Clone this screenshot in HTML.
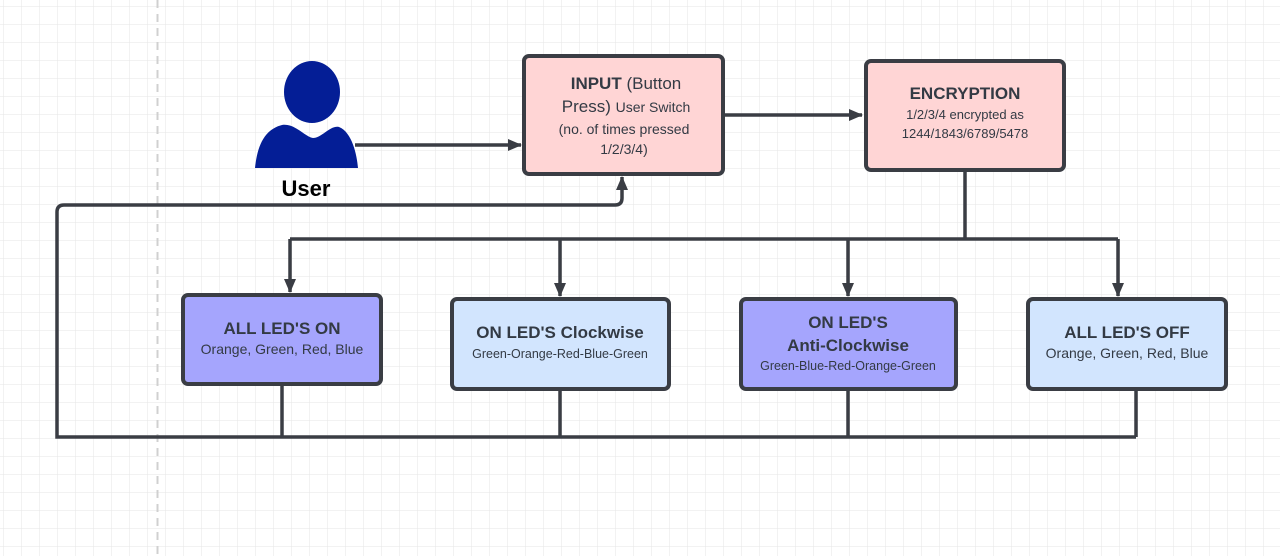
<!DOCTYPE html>
<html><head><meta charset="utf-8"><style>
html,body{margin:0;padding:0;background:#fff;}
svg{display:block;}
text{font-family:"Liberation Sans",sans-serif;fill:#333a44;}
</style></head><body>
<svg width="1280" height="556" viewBox="0 0 1280 556" xmlns="http://www.w3.org/2000/svg">
<defs>
<pattern id="g" x="3.5" y="6" width="18" height="18" patternUnits="userSpaceOnUse">
<path d="M0 0H18M0 0V18" stroke="#e6e6e6" stroke-width="1" fill="none"/>
</pattern>
<marker id="a" markerWidth="14" markerHeight="12" refX="13" refY="6" orient="auto" markerUnits="userSpaceOnUse" viewBox="0 0 14 12">
<path d="M0 0L14 6L0 12z" fill="#3a3d44"/>
</marker>
</defs>
<rect width="1280" height="556" fill="url(#g)"/>
<line x1="157.5" y1="0" x2="157.5" y2="556" stroke="#d0d0d0" stroke-width="2" stroke-dasharray="8,6"/>

<g stroke="#3a3d44" stroke-width="3.5" fill="none">
<line x1="355" y1="145" x2="521" y2="145" marker-end="url(#a)"/>
<line x1="723" y1="115" x2="862" y2="115" marker-end="url(#a)"/>
<line x1="965" y1="170" x2="965" y2="239"/>
<line x1="290" y1="239" x2="1118" y2="239"/>
<line x1="290" y1="239" x2="290" y2="292" marker-end="url(#a)"/>
<line x1="560" y1="239" x2="560" y2="296" marker-end="url(#a)"/>
<line x1="848" y1="239" x2="848" y2="296" marker-end="url(#a)"/>
<line x1="1118" y1="239" x2="1118" y2="296" marker-end="url(#a)"/>
<line x1="282" y1="384" x2="282" y2="437"/>
<line x1="560" y1="389" x2="560" y2="437"/>
<line x1="848" y1="389" x2="848" y2="437"/>
<line x1="1136" y1="389" x2="1136" y2="437"/>
<path d="M1136,437 L57,437 L57,212 Q57,205 64,205 L615,205 Q622,205 622,198 L622,177" marker-end="url(#a)"/>
</g>

<ellipse cx="312" cy="92" rx="28" ry="31" fill="#041e96"/>
<path d="M255,168 C257,150 262,130 282,125 C295,123 305,137 313,138 C322,138 330,125 339,127 C352,132 357,155 358,168 Z" fill="#041e96"/>
<text x="306" y="196" font-size="22" font-weight="bold" text-anchor="middle" style="fill:#000">User</text>

<g stroke="#3a3d44" stroke-width="4">
<rect x="524" y="56" width="199" height="118" rx="5" fill="#ffd5d5"/>
<rect x="866" y="61" width="198" height="109" rx="5" fill="#ffd5d5"/>
<rect x="183" y="295" width="198" height="89" rx="5" fill="#a5a5fd"/>
<rect x="452" y="299" width="217" height="90" rx="5" fill="#d2e5fe"/>
<rect x="741" y="299" width="215" height="90" rx="5" fill="#a5a5fd"/>
<rect x="1028" y="299" width="198" height="90" rx="5" fill="#d2e5fe"/>
</g>

<g text-anchor="middle">
<text x="626" y="89" font-size="17"><tspan font-weight="bold">INPUT</tspan> (Button</text>
<text x="626" y="112" font-size="17">Press) <tspan font-size="14">User Switch</tspan></text>
<text x="624" y="134" font-size="14">(no. of times pressed</text>
<text x="624" y="154" font-size="14">1/2/3/4)</text>
<text x="965" y="99" font-size="17" font-weight="bold">ENCRYPTION</text>
<text x="965" y="119" font-size="13">1/2/3/4 encrypted as</text>
<text x="965" y="138" font-size="13">1244/1843/6789/5478</text>
<text x="282" y="334" font-size="17" font-weight="bold">ALL LED'S ON</text>
<text x="282" y="354" font-size="14">Orange, Green, Red, Blue</text>
<text x="560" y="338" font-size="17" font-weight="bold">ON LED'S Clockwise</text>
<text x="560" y="358" font-size="12.5">Green-Orange-Red-Blue-Green</text>
<text x="848" y="328" font-size="17" font-weight="bold">ON LED'S</text>
<text x="848" y="351" font-size="17" font-weight="bold">Anti-Clockwise</text>
<text x="848" y="370" font-size="12.5">Green-Blue-Red-Orange-Green</text>
<text x="1127" y="338" font-size="17" font-weight="bold">ALL LED'S OFF</text>
<text x="1127" y="358" font-size="14">Orange, Green, Red, Blue</text>
</g>
</svg>
</body></html>
